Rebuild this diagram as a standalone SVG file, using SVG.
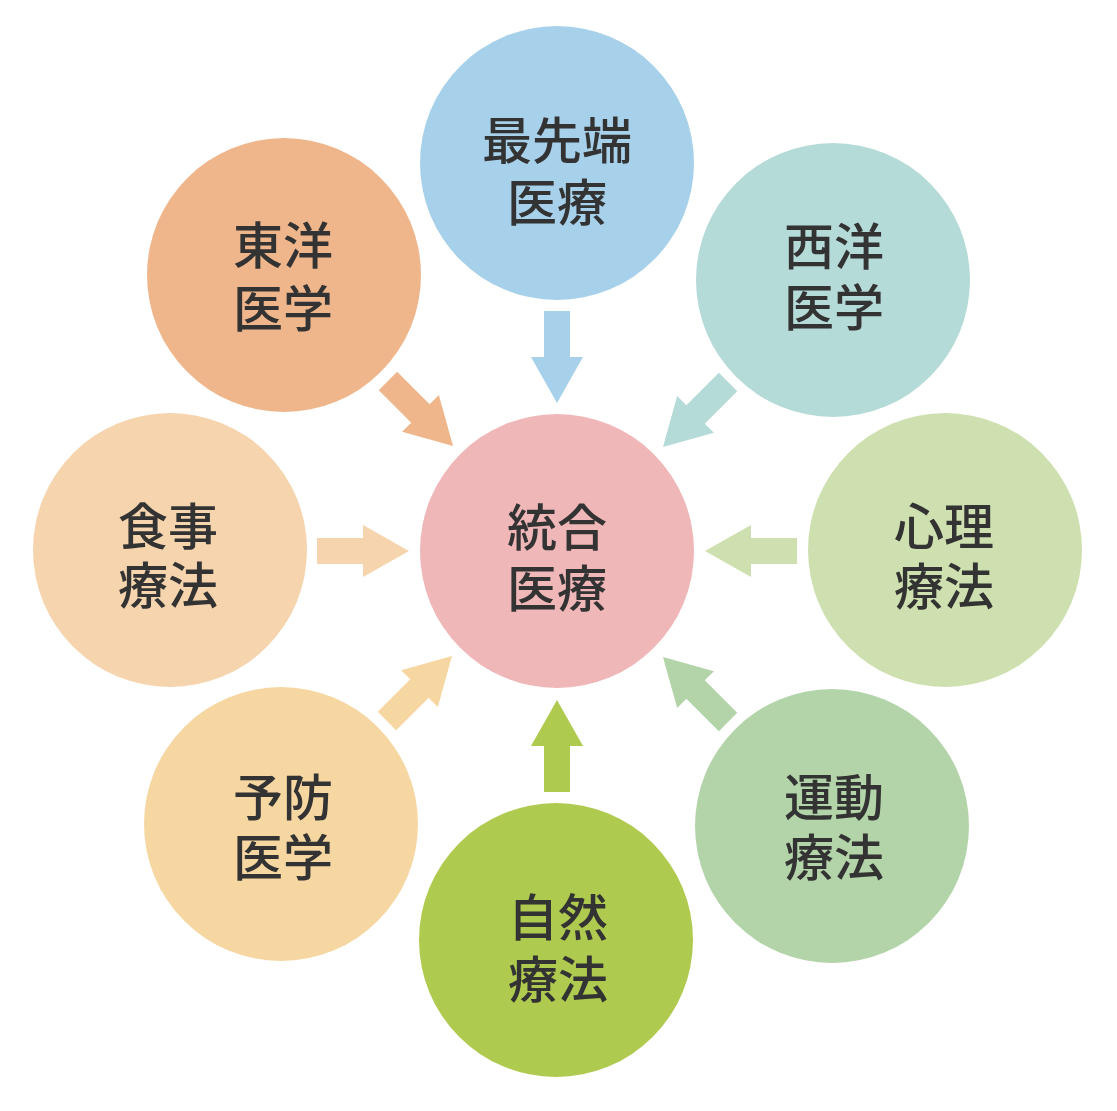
<svg xmlns="http://www.w3.org/2000/svg" width="1117" height="1111" viewBox="0 0 1117 1111">
<style>
.lbl{font-family:"Noto Sans CJK JP","Noto Sans CJK SC",sans-serif;font-size:50px;font-weight:500;fill:#333;text-anchor:middle}
</style>
<defs>
<polygon id="arr" points="-92,-13 -46,-13 -46,-26 0,0 -46,26 -46,13 -92,13"/>
</defs>
<rect width="1117" height="1111" fill="#fff"/>
<g id="connectors">
<use href="#arr" fill="#a7d0ea" transform="translate(557,403) rotate(90)"/>
<use href="#arr" fill="#afcb4f" transform="translate(557,700) rotate(-90)"/>
<use href="#arr" fill="#f6d4ae" transform="translate(409,551)"/>
<use href="#arr" fill="#cfe0b0" transform="translate(705,551) rotate(180)"/>
<use href="#arr" fill="#efb68c" transform="translate(453,446) rotate(45)"/>
<use href="#arr" fill="#b5dbd8" transform="translate(663,447) rotate(135)"/>
<use href="#arr" fill="#f6d7a2" transform="translate(452,656) rotate(-45)"/>
<use href="#arr" fill="#b3d4a9" transform="translate(663,657) rotate(-135)"/>
</g>
<g id="center">
<circle cx="557" cy="551" r="137" fill="#f0b7b8"/>
<text class="lbl"><tspan x="557" y="546">統合</tspan><tspan x="557" y="607">医療</tspan></text>
</g>
<g id="top">
<circle cx="557" cy="163" r="137" fill="#a7d0ea"/>
<text class="lbl"><tspan x="557" y="159">最先端</tspan><tspan x="557" y="221">医療</tspan></text>
</g>
<g id="topleft">
<circle cx="284" cy="275" r="137" fill="#efb68c"/>
<text class="lbl"><tspan x="283" y="264">東洋</tspan><tspan x="283" y="327">医学</tspan></text>
</g>
<g id="topright">
<circle cx="833" cy="280" r="137" fill="#b5dbd8"/>
<text class="lbl"><tspan x="834" y="265">西洋</tspan><tspan x="834" y="326">医学</tspan></text>
</g>
<g id="left">
<circle cx="170" cy="550" r="137" fill="#f6d4ae"/>
<text class="lbl"><tspan x="168" y="545">食事</tspan><tspan x="168" y="604">療法</tspan></text>
</g>
<g id="right">
<circle cx="945" cy="550" r="137" fill="#cfe0b0"/>
<text class="lbl"><tspan x="944" y="545">心理</tspan><tspan x="944" y="605">療法</tspan></text>
</g>
<g id="bottomleft">
<circle cx="281" cy="824" r="137" fill="#f6d7a2"/>
<text class="lbl"><tspan x="283" y="816">予防</tspan><tspan x="283" y="876">医学</tspan></text>
</g>
<g id="bottomright">
<circle cx="832" cy="826" r="137" fill="#b3d4a9"/>
<text class="lbl"><tspan x="834" y="816">運動</tspan><tspan x="834" y="876">療法</tspan></text>
</g>
<g id="bottom">
<circle cx="556" cy="940" r="137" fill="#afcb4f"/>
<text class="lbl"><tspan x="558" y="936">自然</tspan><tspan x="558" y="998">療法</tspan></text>
</g>
</svg>
